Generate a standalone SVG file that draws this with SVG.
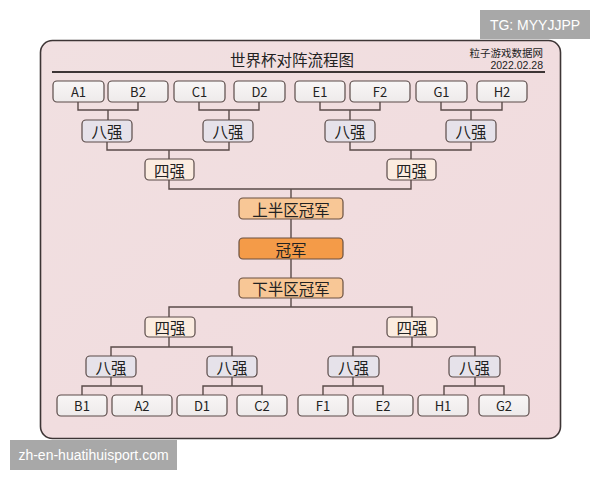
<svg xmlns="http://www.w3.org/2000/svg" width="600" height="480" viewBox="0 0 600 480">
<defs>
<linearGradient id="panelG" x1="0" y1="0" x2="1" y2="1">
<stop offset="0" stop-color="#f1e0e1"/><stop offset="1" stop-color="#f1dadd"/>
</linearGradient>
<linearGradient id="leafG" x1="0" y1="0" x2="0" y2="1">
<stop offset="0" stop-color="#f8f6f6"/><stop offset="1" stop-color="#eeeaea"/>
</linearGradient>
<style>
.t{font-family:"Noto Sans CJK SC","Noto Sans",sans-serif;fill:#222;text-anchor:middle;dominant-baseline:central}
.leaf rect{fill:url(#leafG);stroke:#5a4b49;stroke-width:1.2}
.q8 rect{fill:#e6e2ea;stroke:#5a4b49;stroke-width:1.2}
.q4 rect{fill:#fbece0;stroke:#5a4b49;stroke-width:1.2}
.semi rect{fill:#f8c796;stroke:#6a5040;stroke-width:1.2}
.champ rect{fill:#f49b48;stroke:#6a5040;stroke-width:1.2}
.big{font-size:15.5px}
#connectors path{fill:none;stroke:#5a4b49;stroke-width:1.4}
.wm{font-family:"Liberation Sans",Arial,sans-serif;fill:#fff;dominant-baseline:central;text-anchor:middle}
</style>
</defs>
<rect x="0" y="0" width="600" height="480" fill="#ffffff"/>
<rect x="40.5" y="40.5" width="520" height="398" rx="12" fill="url(#panelG)" stroke="#3d3535" stroke-width="1.6"/>
<text class="t" x="292" y="59" style="font-size:15.5px">世界杯对阵流程图</text>
<text class="t" x="543" y="52" style="font-size:10.5px;text-anchor:end">粒子游戏数据网</text>
<text class="t" x="543" y="65" style="font-size:10.5px;text-anchor:end;font-family:'Liberation Sans',sans-serif">2022.02.28</text>
<line x1="52" y1="72" x2="545" y2="72" stroke="#3d3535" stroke-width="2"/>

<g id="connectors">
<path d="M78 102V110H138V102M108 110V120"/>
<path d="M199 102V110H259V102M229 110V120"/>
<path d="M320 102V110H380V102M350 110V120"/>
<path d="M441 102V110H502V102M471 110V120"/>
<path d="M107 142V150H229V142M169 150V159"/>
<path d="M350 142V150H471V142M411 150V159"/>
<path d="M169 180V189H411V180M291 189V198"/>
<path d="M291 219V238M291 259V278"/>
<path d="M291 298V307M169 317V307H412V317"/>
<path d="M169 337V347H232V356M111 356V347H169"/>
<path d="M412 337V347H475V356M353 356V347H412"/>
<path d="M111 377V386H142V395M82 395V386H111"/>
<path d="M232 377V386H262V395M203 395V386H232"/>
<path d="M353 377V386H383V395M323 395V386H353"/>
<path d="M475 377V386H504V395M444 395V386H475"/>
</g>

<g id="n-A1" class="leaf"><rect x="53" y="81" width="51" height="21" rx="4"/><text class="t" x="78.5" y="91.5" style="font-size:13px">A1</text></g>
<g id="n-B2" class="leaf"><rect x="108" y="81" width="60" height="21" rx="4"/><text class="t" x="138" y="91.5" style="font-size:13px">B2</text></g>
<g id="n-C1" class="leaf"><rect x="174" y="81" width="51" height="21" rx="4"/><text class="t" x="199.5" y="91.5" style="font-size:13px">C1</text></g>
<g id="n-D2" class="leaf"><rect x="234" y="81" width="51" height="21" rx="4"/><text class="t" x="259.5" y="91.5" style="font-size:13px">D2</text></g>
<g id="n-E1" class="leaf"><rect x="295" y="81" width="50" height="21" rx="4"/><text class="t" x="320" y="91.5" style="font-size:13px">E1</text></g>
<g id="n-F2" class="leaf"><rect x="350" y="81" width="60" height="21" rx="4"/><text class="t" x="380" y="91.5" style="font-size:13px">F2</text></g>
<g id="n-G1" class="leaf"><rect x="416" y="81" width="51" height="21" rx="4"/><text class="t" x="441.5" y="91.5" style="font-size:13px">G1</text></g>
<g id="n-H2" class="leaf"><rect x="477" y="81" width="50" height="21" rx="4"/><text class="t" x="502" y="91.5" style="font-size:13px">H2</text></g>

<g id="n-q8a" class="q8"><rect x="82" y="120" width="50" height="22" rx="4"/><text class="t big" x="107" y="131">八强</text></g>
<g id="n-q8b" class="q8"><rect x="203" y="120" width="50" height="22" rx="4"/><text class="t big" x="228" y="131">八强</text></g>
<g id="n-q8c" class="q8"><rect x="325" y="120" width="50" height="22" rx="4"/><text class="t big" x="350" y="131">八强</text></g>
<g id="n-q8d" class="q8"><rect x="446" y="120" width="50" height="22" rx="4"/><text class="t big" x="471" y="131">八强</text></g>

<g id="n-q4a" class="q4"><rect x="145" y="159" width="49" height="21" rx="4"/><text class="t big" x="169.5" y="169.5">四强</text></g>
<g id="n-q4b" class="q4"><rect x="387" y="159" width="49" height="21" rx="4"/><text class="t big" x="411.5" y="169.5">四强</text></g>

<g id="n-upper" class="semi"><rect x="239" y="198" width="104" height="21" rx="4"/><text class="t big" x="291" y="208.5">上半区冠军</text></g>
<g id="n-champ" class="champ"><rect x="239" y="238" width="104" height="21" rx="4"/><text class="t big" x="291" y="248.5">冠军</text></g>
<g id="n-lower" class="semi"><rect x="239" y="278" width="104" height="20" rx="4"/><text class="t big" x="291" y="288">下半区冠军</text></g>

<g id="n-q4c" class="q4"><rect x="145" y="317" width="50" height="20" rx="4"/><text class="t big" x="170" y="327">四强</text></g>
<g id="n-q4d" class="q4"><rect x="387" y="317" width="50" height="20" rx="4"/><text class="t big" x="412" y="327">四强</text></g>

<g id="n-q8e" class="q8"><rect x="86" y="356" width="50" height="21" rx="4"/><text class="t big" x="111" y="366.5">八强</text></g>
<g id="n-q8f" class="q8"><rect x="207" y="356" width="50" height="21" rx="4"/><text class="t big" x="232" y="366.5">八强</text></g>
<g id="n-q8g" class="q8"><rect x="328" y="356" width="51" height="21" rx="4"/><text class="t big" x="353.5" y="366.5">八强</text></g>
<g id="n-q8h" class="q8"><rect x="449" y="356" width="51" height="21" rx="4"/><text class="t big" x="474.5" y="366.5">八强</text></g>

<g id="n-B1" class="leaf"><rect x="57" y="395" width="50" height="21" rx="4"/><text class="t" x="82" y="405.5" style="font-size:13px">B1</text></g>
<g id="n-A2" class="leaf"><rect x="112" y="395" width="60" height="21" rx="4"/><text class="t" x="142" y="405.5" style="font-size:13px">A2</text></g>
<g id="n-D1" class="leaf"><rect x="177" y="395" width="50" height="21" rx="4"/><text class="t" x="202" y="405.5" style="font-size:13px">D1</text></g>
<g id="n-C2" class="leaf"><rect x="237" y="395" width="50" height="21" rx="4"/><text class="t" x="262" y="405.5" style="font-size:13px">C2</text></g>
<g id="n-F1" class="leaf"><rect x="298" y="395" width="50" height="21" rx="4"/><text class="t" x="323" y="405.5" style="font-size:13px">F1</text></g>
<g id="n-E2" class="leaf"><rect x="353" y="395" width="60" height="21" rx="4"/><text class="t" x="383" y="405.5" style="font-size:13px">E2</text></g>
<g id="n-H1" class="leaf"><rect x="418" y="395" width="50" height="21" rx="4"/><text class="t" x="443" y="405.5" style="font-size:13px">H1</text></g>
<g id="n-G2" class="leaf"><rect x="479" y="395" width="50" height="21" rx="4"/><text class="t" x="504" y="405.5" style="font-size:13px">G2</text></g>

<rect x="480" y="10" width="110" height="29" fill="#a8a8a8"/>
<text class="wm" x="535" y="24.5" style="font-size:14px">TG: MYYJJPP</text>
<rect x="10" y="440" width="167" height="30" fill="#a8a8a8"/>
<text class="wm" x="93.5" y="455" style="font-size:14px">zh-en-huatihuisport.com</text>
</svg>
